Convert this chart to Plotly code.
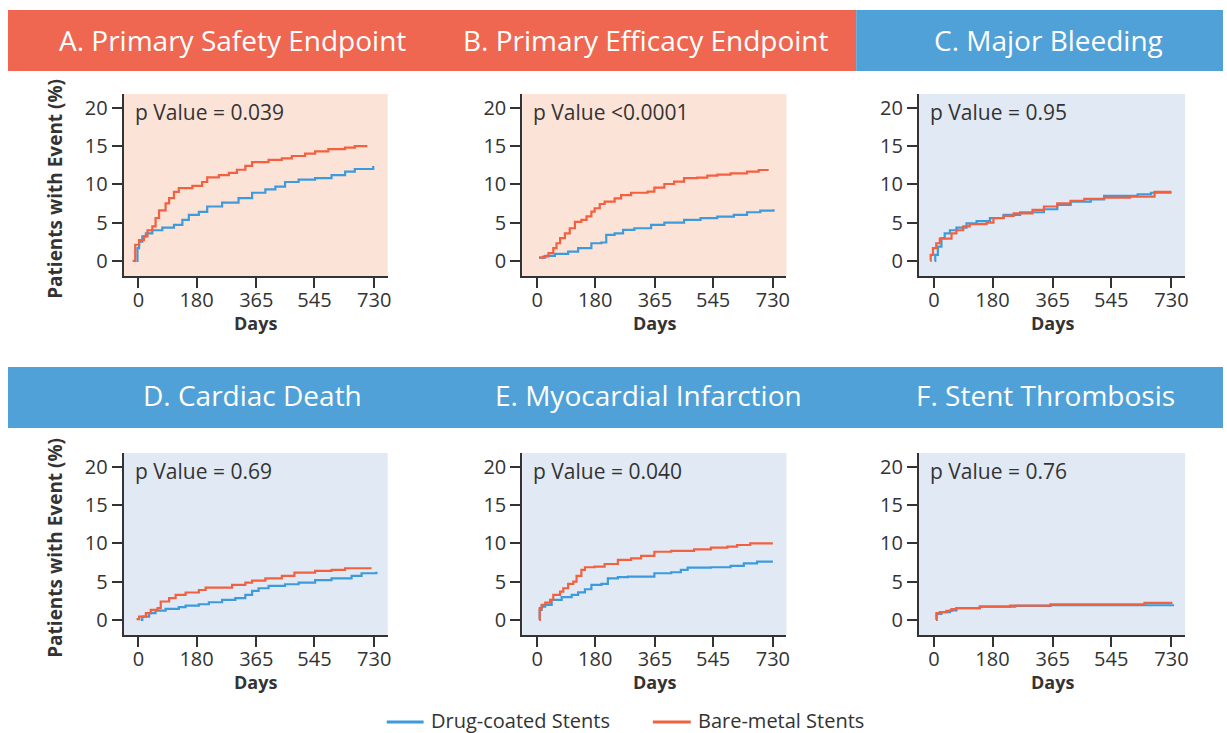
import plotly.graph_objects as go

W, H = 1227, 733

# ---------------- data (days, cumulative % with event) ----------------
A_dcs_days = [-6, -3, 2, 12, 23, 43, 74, 110, 136, 156, 187, 213, 259, 310, 352, 393, 424, 454, 496, 547, 598, 640, 670, 727]
A_dcs_vals = [0, 1.65, 2.5, 3.2, 3.6, 4.0, 4.35, 4.7, 5.35, 6.0, 6.4, 7.1, 7.6, 8.2, 8.9, 9.35, 9.7, 10.3, 10.6, 10.8, 11.2, 11.65, 12.0, 12.4]
A_bms_days = [-18, -10, 2, 17, 28, 43, 53, 64, 84, 95, 110, 125, 167, 197, 213, 249, 280, 305, 331, 352, 403, 444, 475, 516, 547, 588, 640, 670, 709]
A_bms_vals = [0, 2.1, 2.7, 3.2, 4.0, 4.5, 5.6, 6.6, 7.5, 8.2, 9.0, 9.5, 9.8, 10.3, 10.9, 11.2, 11.5, 11.9, 12.4, 12.9, 13.2, 13.4, 13.7, 14.0, 14.3, 14.6, 14.8, 15.0, 15.0]

B_dcs_days = [6, 25, 55, 96, 127, 168, 199, 214, 240, 266, 301, 353, 394, 455, 506, 558, 609, 650, 691, 732]
B_dcs_vals = [0.43, 0.65, 0.91, 1.2, 1.65, 2.3, 2.4, 3.4, 3.6, 4.04, 4.26, 4.7, 5.0, 5.35, 5.57, 5.78, 6.0, 6.35, 6.57, 6.74]
B_bms_days = [6, 19, 35, 50, 60, 71, 86, 101, 117, 137, 153, 168, 178, 194, 209, 240, 260, 291, 342, 363, 394, 424, 455, 496, 527, 558, 599, 650, 686, 717]
B_bms_vals = [0.43, 0.57, 1.0, 1.65, 2.3, 2.96, 3.6, 4.26, 5.1, 5.35, 5.8, 6.43, 6.87, 7.43, 7.74, 8.17, 8.6, 8.9, 9.04, 9.57, 10.04, 10.35, 10.8, 10.87, 11.13, 11.26, 11.43, 11.65, 11.87, 11.87]

C_dcs_days = [2, 4, 12, 23, 33, 49, 69, 100, 131, 172, 214, 265, 338, 379, 420, 482, 523, 626, 667, 730]
C_dcs_vals = [0, 0.78, 1.87, 2.96, 3.6, 4.0, 4.35, 4.9, 5.2, 5.57, 6.0, 6.35, 6.74, 7.3, 7.74, 8.04, 8.48, 8.7, 8.9, 8.9]
C_bms_days = [-11, -10, -3, 7, 18, 54, 69, 90, 110, 162, 183, 214, 245, 303, 338, 379, 420, 462, 523, 603, 678, 730]
C_bms_vals = [0, 0.78, 1.65, 2.3, 2.9, 3.6, 4.0, 4.5, 4.8, 5.0, 5.6, 5.87, 6.2, 6.65, 7.1, 7.5, 7.83, 8.1, 8.26, 8.4, 9.0, 9.0]

D_dcs_days = [7, 12, 33, 53, 84, 125, 146, 187, 218, 259, 300, 331, 352, 372, 403, 454, 496, 547, 598, 660, 691, 737]
D_dcs_vals = [0, 0.43, 0.87, 1.2, 1.43, 1.65, 1.87, 2.04, 2.3, 2.6, 2.83, 3.26, 3.78, 4.13, 4.43, 4.65, 4.87, 5.2, 5.43, 5.74, 6.09, 6.3]
D_bms_days = [-6, 2, 23, 38, 59, 69, 95, 115, 146, 187, 208, 290, 331, 352, 393, 444, 483, 547, 598, 640, 722]
D_bms_vals = [0.09, 0.43, 0.87, 1.3, 1.52, 2.4, 2.83, 3.26, 3.57, 3.9, 4.2, 4.57, 4.87, 5.13, 5.43, 5.74, 6.17, 6.39, 6.52, 6.74, 6.74]

E_dcs_days = [7, 8, 14, 25, 45, 76, 107, 127, 148, 168, 199, 219, 250, 281, 363, 415, 445, 466, 538, 599, 640, 681, 730]
E_dcs_vals = [0, 1.3, 1.74, 1.96, 2.6, 2.96, 3.26, 3.6, 4.0, 4.57, 4.7, 5.43, 5.57, 5.65, 6.09, 6.22, 6.52, 6.83, 6.87, 7.04, 7.39, 7.6, 7.6]
E_bms_days = [7, 8, 14, 25, 40, 50, 71, 81, 96, 112, 122, 137, 148, 178, 209, 250, 291, 322, 363, 415, 486, 538, 589, 619, 660, 730]
E_bms_vals = [0, 1.52, 1.96, 2.26, 2.6, 3.26, 3.7, 4.13, 4.7, 5.0, 5.74, 6.52, 6.87, 6.96, 7.3, 7.83, 8.04, 8.35, 8.9, 9.0, 9.2, 9.43, 9.57, 9.78, 10.0, 10.0]

F_dcs_days = [7, 8, 23, 49, 69, 141, 250, 358, 738]
F_dcs_vals = [0, 0.78, 1.0, 1.22, 1.52, 1.74, 1.83, 1.91, 1.91]
F_bms_days = [7, 8, 18, 38, 54, 69, 141, 234, 358, 647, 733]
F_bms_vals = [0, 0.87, 1.0, 1.17, 1.39, 1.52, 1.74, 1.87, 2.04, 2.22, 2.22]

panel_titles = ["A. Primary Safety Endpoint", "B. Primary Efficacy Endpoint", "C. Major Bleeding",
                "D. Cardiac Death", "E. Myocardial Infarction", "F. Stent Thrombosis"]
p_values = ["p Value = 0.039", "p Value <0.0001", "p Value = 0.95",
            "p Value = 0.69", "p Value = 0.040", "p Value = 0.76"]
series_names = ["Drug-coated Stents", "Bare-metal Stents"]
x_ticks = [0, 180, 365, 545, 730]
y_ticks = [0, 5, 10, 15, 20]
x_label = "Days"
y_label = "Patients with Event (%)"

panel_data = [
    (A_dcs_days, A_dcs_vals, A_bms_days, A_bms_vals),
    (B_dcs_days, B_dcs_vals, B_bms_days, B_bms_vals),
    (C_dcs_days, C_dcs_vals, C_bms_days, C_bms_vals),
    (D_dcs_days, D_dcs_vals, D_bms_days, D_bms_vals),
    (E_dcs_days, E_dcs_vals, E_bms_days, E_bms_vals),
    (F_dcs_days, F_dcs_vals, F_bms_days, F_bms_vals),
]

# ---------------- styling ----------------
FONT = "Open Sans"
RED_HDR = "#EF6750"
BLUE_HDR = "#4FA1D8"
RED_BG = "#FCE3D8"
BLUE_BG = "#E1EAF4"
BLUE_LINE = "#3D9ADB"
RED_LINE = "#F2603F"
AXIS_COL = "#333333"
panel_bg = [RED_BG, RED_BG, BLUE_BG, BLUE_BG, BLUE_BG, BLUE_BG]
series_colors = [BLUE_LINE, RED_LINE]

# pixel geometry of plot areas (left, right, top, bottom)
cols = [(124, 389), (524, 789), (922, 1189)]
rows = [(94, 276), (453, 635)]

def px(x):
    return x / W

def py(y):
    return 1 - y / H

fig = go.Figure()
layout = dict()
shapes = []
annotations = []

for i in range(6):
    r, c = divmod(i, 3)
    l, rt = cols[c]
    t, b = rows[r]
    n = "" if i == 0 else str(i + 1)
    xa, ya = "x" + n, "y" + n
    dd, dv, bd, bv = panel_data[i]
    fig.add_trace(go.Scatter(x=dd, y=dv, mode="lines", line=dict(color=BLUE_LINE, width=2.2, shape="hv"),
                             name=series_names[0], showlegend=False, xaxis=xa, yaxis=ya))
    fig.add_trace(go.Scatter(x=bd, y=bv, mode="lines", line=dict(color=RED_LINE, width=2.2, shape="hv"),
                             name=series_names[1], showlegend=False, xaxis=xa, yaxis=ya))
    common = dict(showline=True, linecolor=AXIS_COL, linewidth=2, ticks="outside", ticklen=10,
                  tickwidth=2, tickcolor=AXIS_COL, showgrid=False, zeroline=False,
                  tickfont=dict(family=FONT, size=20, color=AXIS_COL), fixedrange=True)
    layout["xaxis" + n] = dict(domain=[px(l), px(rt)], anchor=ya, range=[-46, 772],
                               tickmode="array", tickvals=x_ticks, ticklabelstandoff=-5, **common)
    layout["yaxis" + n] = dict(domain=[py(b), py(t)], anchor=xa, range=[-1.98, 21.8],
                               tickmode="array", tickvals=y_ticks, **common)
    shapes.append(dict(type="rect", xref=xa + " domain", yref=ya + " domain", x0=0, x1=1, y0=0, y1=1,
                       fillcolor=panel_bg[i], line=dict(width=0), layer="below"))
    annotations.append(dict(text=p_values[i], xref="paper", yref="paper", x=px(l + 9), y=py(t + 18),
                            xanchor="left", yanchor="middle", showarrow=False,
                            font=dict(family=FONT, size=21, color=AXIS_COL)))
    annotations.append(dict(text="<b>" + x_label + "</b>", xref="paper", yref="paper",
                            x=px((l + rt) / 2), y=py(b + 47), xanchor="center", yanchor="middle",
                            showarrow=False, font=dict(family=FONT, size=18, color=AXIS_COL)))

# y-axis titles (left column only)
for r in range(2):
    t, b = rows[r]
    annotations.append(dict(text="<b>" + y_label + "</b>", xref="paper", yref="paper", x=px(55),
                            y=py((t + b) / 2 + 4), xanchor="center", yanchor="middle", textangle=-90,
                            showarrow=False, font=dict(family=FONT, size=19, color=AXIS_COL)))

# header bars
shapes.append(dict(type="rect", xref="paper", yref="paper", x0=px(8), x1=px(859), y0=py(71), y1=py(10),
                   fillcolor=RED_HDR, line=dict(width=0), layer="below"))
shapes.append(dict(type="rect", xref="paper", yref="paper", x0=px(859), x1=1, y0=py(71), y1=py(10),
                   fillcolor=BLUE_HDR, line=dict(width=0), layer="below"))
shapes.append(dict(type="rect", xref="paper", yref="paper", x0=px(8), x1=1, y0=py(428), y1=py(367),
                   fillcolor=BLUE_HDR, line=dict(width=0), layer="below"))

title_x = [233, 648, 1052, 253, 651, 1049]
title_y = [40, 40, 40, 395, 395, 395]
for i in range(6):
    annotations.append(dict(text=panel_titles[i], xref="paper", yref="paper", x=px(title_x[i]),
                            y=py(title_y[i]), xanchor="center", yanchor="middle", showarrow=False,
                            font=dict(family=FONT, size=28, color="white")))

# legend (key lines + labels) along the bottom
legend_line_x = [(388, 425), (655, 693)]
legend_y = 721
for k in range(2):
    x0, x1 = legend_line_x[k]
    shapes.append(dict(type="line", xref="paper", yref="paper", x0=px(x0), x1=px(x1),
                       y0=py(legend_y + 1), y1=py(legend_y + 1), line=dict(color=series_colors[k], width=3)))
    annotations.append(dict(text=series_names[k], xref="paper", yref="paper", x=px(x1 + 5),
                            y=py(legend_y - 1), xanchor="left", yanchor="middle", showarrow=False,
                            font=dict(family=FONT, size=20, color=AXIS_COL)))

fig.update_layout(
    width=W, height=H, margin=dict(l=0, r=0, t=0, b=0),
    paper_bgcolor="white", plot_bgcolor="rgba(0,0,0,0)",
    font=dict(family=FONT, color=AXIS_COL),
    shapes=shapes, annotations=annotations,
    showlegend=False,
    **layout,
)

fig.write_html("out.html", config={"displayModeBar": False},
               post_script="document.body.style.margin='0';document.body.style.overflow='hidden';")
